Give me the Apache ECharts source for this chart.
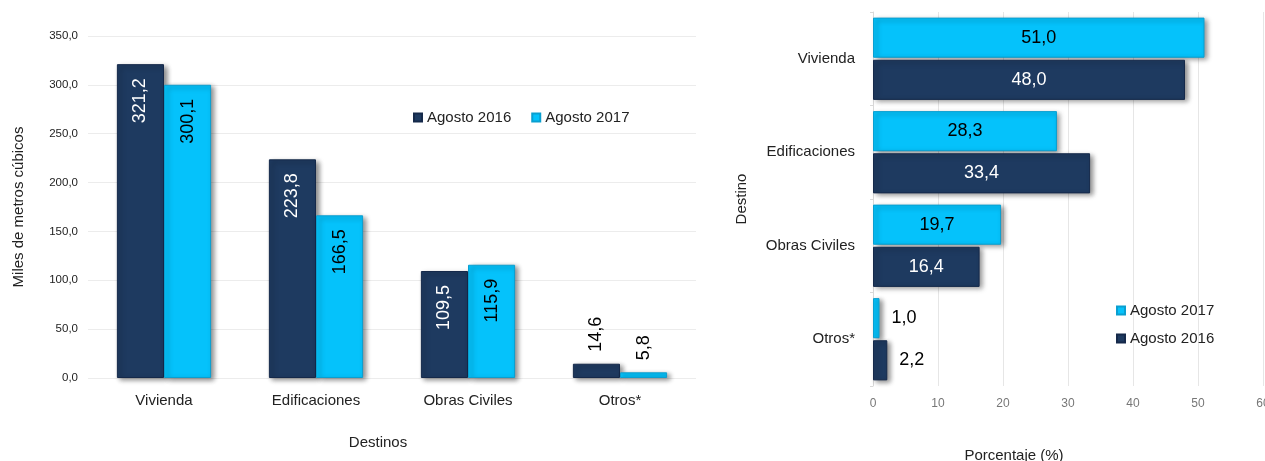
<!DOCTYPE html>
<html>
<head>
<meta charset="utf-8">
<script src="https://cdn.jsdelivr.net/npm/echarts@6/dist/echarts.min.js"></script>
<style>
  html, body { margin: 0; padding: 0; background: #fff; }
  #chart { width: 1265px; height: 461px; }
</style>
</head>
<body>
<div id="chart"></div>
<script>
// datos: volumen (miles de m3) y participación (%)
const destinos = ["Vivienda", "Edificaciones", "Obras Civiles", "Otros*"];
const volumen2016 = [321.2, 223.8, 109.5, 14.6];
const volumen2017 = [300.1, 166.5, 115.9, 5.8];
const pct2016 = [48.0, 33.4, 16.4, 2.2];
const pct2017 = [51.0, 28.3, 19.7, 1.0];
const volTicks = [0, 50, 100, 150, 200, 250, 300, 350];
const pctTicks = [0, 10, 20, 30, 40, 50, 60];

const DARK = "#1e3a60";
const LIGHT = "#05c2fb";
const FONT = "Liberation Sans";

const coma = (v) => v.toFixed(1).replace(".", ",");

const sombra = {
  shadowBlur: 5,
  shadowOffsetX: 3,
  shadowOffsetY: 2,
  shadowColor: "rgba(0,0,0,0.45)",
};

// etiquetas giradas dentro de la barra (o encima si la barra es baja)
const volData = (vals, txtColor) =>
  vals.map((v) => {
    if (v < 50) {
      return {
        value: v,
        label: {
          position: "top",
          align: "left",
          verticalAlign: "middle",
          distance: 12,
          color: "#000",
        },
      };
    }
    return { value: v, label: { color: txtColor } };
  });

const pctData = (vals, txtColor) =>
  vals.map((v) => {
    if (v < 5) {
      return { value: v, label: { position: "right", distance: 12, color: "#000" } };
    }
    return { value: v, label: { color: txtColor } };
  });

const volLabel = {
  show: true,
  position: "insideTop",
  rotate: 90,
  align: "right",
  verticalAlign: "middle",
  distance: 14,
  fontSize: 18,
  fontFamily: FONT,
  formatter: (p) => coma(p.value),
};

const pctLabel = {
  show: true,
  position: "inside",
  fontSize: 18,
  fontFamily: FONT,
  formatter: (p) => coma(p.value),
};

const chart = echarts.init(document.getElementById("chart"));
chart.setOption({
  animation: false,
  textStyle: { fontFamily: FONT },
  legend: [
    {
      data: ["Agosto 2016", "Agosto 2017"],
      left: 408,
      top: 105,
      icon: "rect",
      itemWidth: 8,
      itemHeight: 8,
      itemGap: 20,
      textStyle: { fontSize: 15, color: "#222", fontFamily: FONT },
    },
    {
      data: ["Agosto 2017 ", "Agosto 2016 "],
      orient: "vertical",
      left: 1111,
      top: 298,
      icon: "rect",
      itemWidth: 8,
      itemHeight: 8,
      itemGap: 13,
      textStyle: { fontSize: 15, color: "#222", fontFamily: FONT },
    },
  ],
  grid: [
    { left: 88, right: 569, top: 36, bottom: 83, outerBoundsMode: "none" },
    { left: 873, right: 2, top: 12, bottom: 75, outerBoundsMode: "none" },
  ],
  xAxis: [
    {
      gridIndex: 0,
      type: "category",
      data: destinos,
      name: "Destinos",
      nameLocation: "middle",
      nameGap: 57,
      nameTextStyle: { fontSize: 15, color: "#222", padding: [0, 28, 0, 0] },
      axisLine: { show: false },
      axisTick: { show: false },
      axisLabel: { fontSize: 15, color: "#222", margin: 15 },
    },
    {
      gridIndex: 1,
      type: "value",
      min: 0,
      max: 60,
      interval: 10,
      name: "Porcentaje (%)",
      nameLocation: "middle",
      nameGap: 62,
      nameTextStyle: { fontSize: 15, color: "#222", padding: [0, 108, 0, 0] },
      axisLine: { show: false },
      axisTick: { show: false },
      axisLabel: { fontSize: 12, color: "#777", margin: 12, formatter: (v) => (pctTicks.includes(v) ? String(v) : "") },
      splitLine: { lineStyle: { color: "#e6e6e6" } },
    },
  ],
  yAxis: [
    {
      gridIndex: 0,
      type: "value",
      min: 0,
      max: 350,
      interval: 50,
      name: "Miles de metros cúbicos",
      nameLocation: "middle",
      nameGap: 62,
      nameTextStyle: { fontSize: 15, color: "#222" },
      axisLine: { show: false },
      axisTick: { show: false },
      axisLabel: { fontSize: 11.5, color: "#222", margin: 10, formatter: (v) => (volTicks.includes(v) ? coma(v) : "") },
      splitLine: { lineStyle: { color: "#ececec" } },
    },
    {
      gridIndex: 1,
      type: "category",
      inverse: true,
      data: destinos,
      name: "Destino",
      nameLocation: "middle",
      nameGap: 124,
      nameTextStyle: { fontSize: 15, color: "#222" },
      axisLine: { show: true, lineStyle: { color: "#d9d9d9" } },
      axisTick: { show: true, length: 3, lineStyle: { color: "#d9d9d9" } },
      axisLabel: { fontSize: 15, color: "#222", margin: 18 },
    },
  ],
  series: [
    {
      name: "Agosto 2016",
      type: "bar",
      xAxisIndex: 0,
      yAxisIndex: 0,
      barGap: "0%",
      barCategoryGap: "38%",
      itemStyle: Object.assign({ color: DARK, borderColor: "#15294a", borderWidth: 1 }, sombra),
      label: volLabel,
      data: volData(volumen2016, "#fff"),
    },
    {
      name: "Agosto 2017",
      type: "bar",
      xAxisIndex: 0,
      yAxisIndex: 0,
      barGap: "0%",
      barCategoryGap: "38%",
      itemStyle: Object.assign({ color: LIGHT, borderColor: "#0a9fd0", borderWidth: 1 }, sombra),
      label: volLabel,
      data: volData(volumen2017, "#000"),
    },
    {
      name: "Agosto 2017 ",
      type: "bar",
      xAxisIndex: 1,
      yAxisIndex: 1,
      barGap: "5%",
      barCategoryGap: "12%",
      itemStyle: Object.assign({ color: LIGHT, borderColor: "#0a9fd0", borderWidth: 1 }, sombra),
      label: pctLabel,
      data: pctData(pct2017, "#000"),
    },
    {
      name: "Agosto 2016 ",
      type: "bar",
      xAxisIndex: 1,
      yAxisIndex: 1,
      barGap: "5%",
      barCategoryGap: "12%",
      itemStyle: Object.assign({ color: DARK, borderColor: "#15294a", borderWidth: 1 }, sombra),
      label: pctLabel,
      data: pctData(pct2016, "#fff"),
    },
  ],
});
window.addEventListener("resize", () => {
  chart.resize();
});
</script>
</body>
</html>
